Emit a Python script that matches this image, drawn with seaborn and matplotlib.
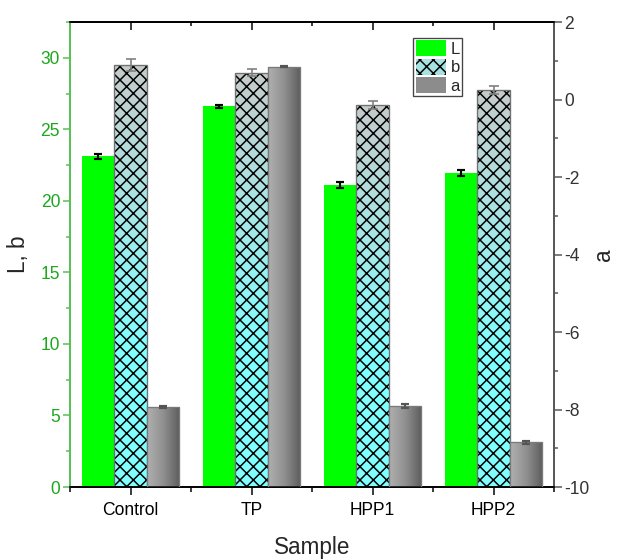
import numpy as np
import pandas as pd
import matplotlib
matplotlib.use("Agg")
import matplotlib.pyplot as plt
import seaborn as sns
from matplotlib.colors import LinearSegmentedColormap
from matplotlib.patches import Patch, Rectangle
from matplotlib.ticker import MultipleLocator, FixedLocator

# ---------------- data ----------------
samples = ["Control", "TP", "HPP1", "HPP2"]
params = ["L", "b", "a"]
L_vals = [23.1, 26.6, 21.1, 21.95]
L_err = [0.18, 0.12, 0.2, 0.22]
b_vals = [29.5, 28.95, 26.7, 27.75]
b_err = [0.4, 0.25, 0.3, 0.3]
a_vals = [-7.94, 0.85, -7.9, -8.84]
a_err = [0.03, 0.02, 0.05, 0.04]
A_BASE = -10

sns.set_style("ticks")
plt.rcParams["font.family"] = ["Liberation Sans", "DejaVu Sans"]
plt.rcParams["hatch.linewidth"] = 0.9
plt.rcParams["axes.unicode_minus"] = False

DPI = 120
fig = plt.figure(figsize=(617 / DPI, 559 / DPI), dpi=DPI)
ax = fig.add_axes([70 / 617, 1 - 487 / 559, 484 / 617, 465 / 559])
ax2 = ax.twinx()

palette = {"L": "#00FF00", "b": "#80FFFF", "a": "#909090"}

df_lb = pd.DataFrame({
    "Sample": samples * 2,
    "Param": ["L"] * 4 + ["b"] * 4,
    "Value": L_vals + b_vals,
})
df_a = pd.DataFrame({
    "Sample": samples,
    "Param": ["a"] * 4,
    "Value": np.array(a_vals) - A_BASE,
})

sns.barplot(data=df_lb, x="Sample", y="Value", hue="Param", hue_order=params,
            order=samples, palette=palette, width=0.8, errorbar=None, dodge=True,
            legend=False, ax=ax, linewidth=0, saturation=1)
sns.barplot(data=df_a, x="Sample", y="Value", hue="Param", hue_order=params,
            order=samples, palette=palette, width=0.8, errorbar=None, dodge=True,
            legend=False, ax=ax2, bottom=A_BASE, linewidth=0, saturation=1)


def grad_fill(axx, patch, colors, direction, zorder):
    x0, y0 = patch.get_x(), patch.get_y()
    w, h = patch.get_width(), patch.get_height()
    cmap = LinearSegmentedColormap.from_list("g", colors)
    if direction == "v":
        arr = np.linspace(0, 1, 256).reshape(-1, 1)
    else:
        arr = np.linspace(0, 1, 256).reshape(1, -1)
    im = axx.imshow(arr, cmap=cmap, extent=[x0, x0 + w, y0, y0 + h],
                    aspect="auto", origin="upper", zorder=zorder,
                    interpolation="bilinear")
    im.set_clip_path(patch)


def add_err(axx, patches, errs, color, lw, capsize):
    xs = [p.get_x() + p.get_width() / 2 for p in patches]
    ys = [p.get_y() + p.get_height() for p in patches]
    axx.errorbar(xs, ys, yerr=errs, fmt="none", ecolor=color, elinewidth=lw,
                 capsize=capsize, capthick=lw, zorder=6)


L_patches = list(ax.containers[0])
b_patches = list(ax.containers[1])
a_patches = [p for c in ax2.containers for p in c]

# b bars: vertical gradient grey->cyan with cross hatch
for p in b_patches:
    grad_fill(ax, p, ["#C6CACA", "#A8E6E6", "#80FFFF", "#80FFFF"], "v", 1.5)
    p.set_facecolor("none")
    p.set_edgecolor("black")
    p.set_hatch("xxx")
    p.set_linewidth(0)
    p.set_zorder(2)
    ax.add_patch(Rectangle((p.get_x(), p.get_y()), p.get_width(), p.get_height(),
                           facecolor="none", edgecolor="#707070", lw=0.8, zorder=3))

# a bars: horizontal gradient light->dark grey
for p in a_patches:
    grad_fill(ax2, p, ["#B0B0B0", "#909090", "#5C5C5C"], "h", 1.5)
    p.set_facecolor("none")
    p.set_edgecolor("#7A7A7A")
    p.set_linewidth(0.8)
    p.set_zorder(3)

add_err(ax, L_patches, L_err, "black", 1.3, 2.6)
add_err(ax, b_patches, b_err, "#808080", 1.0, 3.0)
add_err(ax2, a_patches, a_err, "#555555", 1.3, 2.6)

# ---------------- axes ----------------
ax.set_xlim(-0.5, 3.5)
ax.set_ylim(0, 32.5)
ax2.set_ylim(-10, 2)

green_lab = "#1EA81E"
green_spine = "#55C055"
ax.yaxis.set_major_locator(MultipleLocator(5))
ax.yaxis.set_minor_locator(MultipleLocator(2.5))
ax2.yaxis.set_major_locator(MultipleLocator(2))
ax2.yaxis.set_minor_locator(MultipleLocator(1))
ax.xaxis.set_minor_locator(FixedLocator([-0.5, 0.5, 1.5, 2.5, 3.5]))

ax.tick_params(axis="x", which="major", direction="out", length=5, width=0.9,
               color="black", labelsize=10.5, pad=4, labelcolor="black")
ax.tick_params(axis="x", which="minor", direction="out", length=3, width=0.9,
               color="black")
ax.tick_params(axis="y", which="major", direction="out", length=4.5, width=0.9,
               color=green_spine, labelcolor=green_lab, labelsize=10.5, pad=1.5)
ax.tick_params(axis="y", which="minor", direction="out", length=2.5, width=0.9,
               color=green_spine)
ax2.tick_params(axis="y", which="major", direction="out", length=4.5, width=0.9,
                color="#555555", labelcolor="#333333", labelsize=10.5, pad=1.5)
ax2.tick_params(axis="y", which="minor", direction="out", length=2.5, width=0.9,
                color="#555555")

sec = ax.secondary_xaxis("top")
sec.set_xticks(range(len(samples)))
sec.xaxis.set_minor_locator(FixedLocator([-0.5, 0.5, 1.5, 2.5, 3.5]))
sec.tick_params(axis="x", which="major", direction="in", length=5, width=0.9,
                labeltop=False, color="black")
sec.tick_params(axis="x", which="minor", direction="in", length=2.5, width=0.9,
                color="black")
sec.spines["top"].set_linewidth(1.0)

for a_ in (ax, ax2):
    a_.spines["left"].set_color(green_spine)
    a_.spines["right"].set_color("#555555")
    a_.spines["top"].set_color("black")
    a_.spines["bottom"].set_color("black")
    for s in a_.spines.values():
        s.set_linewidth(1.0)

ax.set_xlabel("Sample", fontsize=13.5, labelpad=10)
ax.set_ylabel("L, b", fontsize=13.5, labelpad=6)
ax2.set_ylabel("a", fontsize=13.5, labelpad=2)

handles = [
    Patch(facecolor="#00FF00", edgecolor="none", label="L"),
    Patch(facecolor="#A6E2E2", edgecolor="black", hatch="xxx", lw=0, label="b"),
    Patch(facecolor="#8C8C8C", edgecolor="none", label="a"),
]
leg = ax2.legend(handles=handles, loc="upper left",
                 bbox_to_anchor=(413 / 617, 1 - 38 / 559),
                 bbox_transform=fig.transFigure, borderaxespad=0,
                 fontsize=10, handlelength=1.8, handleheight=1.1,
                 handletextpad=0.3, labelspacing=0.1, borderpad=0.15,
                 fancybox=False, framealpha=1, edgecolor="#444444")
leg.get_frame().set_linewidth(0.8)
leg.set_zorder(10)

fig.savefig("out.png", dpi=DPI)
